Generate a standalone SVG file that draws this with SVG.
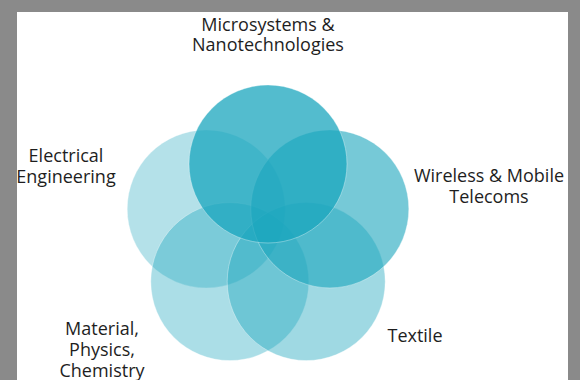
<svg xmlns="http://www.w3.org/2000/svg" width="580" height="380" viewBox="0 0 580 380">
  <style>
    .c { fill: #1aa5bd; stroke: #ffffff; stroke-opacity: 0.35; stroke-width: 1; }
    .t { font-family: "Open Sans", "Liberation Sans", sans-serif; font-size: 18px; fill: #1e1e1e; text-anchor: middle; }
  </style>
  <rect x="0" y="0" width="580" height="380" fill="#8a8a8a"/>
  <rect x="17" y="12" width="551" height="368" fill="#ffffff"/>
  <g id="connectors"/>
  <g id="node-electrical">
    <circle class="c" cx="206.2" cy="208.9" r="79" fill-opacity="0.33"/>
    <text class="t" x="66" y="162">Electrical</text>
    <text class="t" x="66" y="183">Engineering</text>
  </g>
  <g id="node-material">
    <circle class="c" cx="229.8" cy="281.6" r="79" fill-opacity="0.37"/>
    <text class="t" x="102" y="335">Material,</text>
    <text class="t" x="102" y="356">Physics,</text>
    <text class="t" x="102" y="377">Chemistry</text>
  </g>
  <g id="node-textile">
    <circle class="c" cx="306.2" cy="281.6" r="79" fill-opacity="0.42"/>
    <text class="t" x="415" y="342">Textile</text>
  </g>
  <g id="node-wireless">
    <circle class="c" cx="329.8" cy="208.9" r="79" fill-opacity="0.6"/>
    <text class="t" x="489" y="182">Wireless &amp; Mobile</text>
    <text class="t" x="489" y="203">Telecoms</text>
  </g>
  <g id="node-microsystems">
    <circle class="c" cx="268" cy="164" r="79" fill-opacity="0.75"/>
    <text class="t" x="268" y="31">Microsystems &amp;</text>
    <text class="t" x="268" y="51">Nanotechnologies</text>
  </g>
</svg>
